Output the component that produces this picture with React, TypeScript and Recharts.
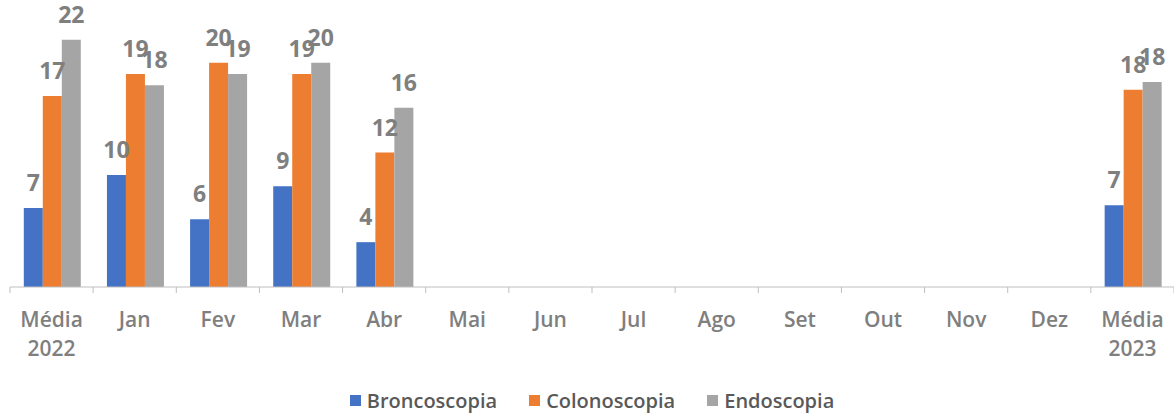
import React from "react";
import { Bar, BarChart, LabelList, Legend, XAxis, YAxis } from "recharts";

const categories = [
  "Média\n2022", "Jan", "Fev", "Mar", "Abr", "Mai", "Jun",
  "Jul", "Ago", "Set", "Out", "Nov", "Dez", "Média\n2023",
];
const broncoscopia = [7.05, 10, 6.05, 9, 4, null, null, null, null, null, null, null, null, 7.3];
const colonoscopia = [17.05, 19, 20, 19, 12, null, null, null, null, null, null, null, null, 17.6];
const endoscopia = [22.05, 18, 19, 20, 16, null, null, null, null, null, null, null, null, 18.3];

const series = [
  { key: "Broncoscopia", values: broncoscopia, color: "#4472C4" },
  { key: "Colonoscopia", values: colonoscopia, color: "#ED7D31" },
  { key: "Endoscopia", values: endoscopia, color: "#A5A5A5" },
];

const rows = categories.map((name, i) => {
  const row: Record<string, string | number | null> = { name };
  series.forEach((s) => (row[s.key] = s.values[i]));
  return row;
});

const W = 1174;
const H = 414;
const LEFT = 10;
const BAND = (W - LEFT) / categories.length;
const FONT = "'Open Sans', Lato, sans-serif";

function CategoryTick(props: any) {
  const { x, y, payload, index } = props;
  const lines = String(payload.value).split("\n");
  const half = BAND / 2;
  return (
    <g>
      <line x1={x - half} x2={x - half} y1={y} y2={y + 6} stroke="#BFBFBF" />
      {index === categories.length - 1 && (
        <line x1={x + half} x2={x + half} y1={y} y2={y + 6} stroke="#BFBFBF" />
      )}
      <text textAnchor="middle" fill="#7F7F7F" fontSize={21} fontWeight={600} fontFamily={FONT}>
        {lines.map((l, i) => (
          <tspan key={i} x={x} y={y + 40 + i * 29}>
            {l}
          </tspan>
        ))}
      </text>
    </g>
  );
}

function LegendBox({ payload }: any) {
  return (
    <div style={{ display: "flex", justifyContent: "center", gap: 32, fontFamily: FONT }}>
      {(payload || []).map((p: any) => (
        <div key={p.value} style={{ display: "flex", alignItems: "center", gap: 6 }}>
          <span style={{ width: 11, height: 11, background: p.color, display: "inline-block" }} />
          <span style={{ color: "#595959", fontSize: 20, fontWeight: 600 }}>{p.value}</span>
        </div>
      ))}
    </div>
  );
}

const fmt = (v: any) => (v == null ? "" : Math.round(Number(v)));

export default function App() {
  return (
    <div style={{ position: "absolute", left: 0, top: 0, background: "#fff" }}>
      <BarChart
        width={W}
        height={H}
        data={rows}
        margin={{ top: 18, right: 0, bottom: 0, left: LEFT }}
        barCategoryGap="16.6%"
        barGap={0}
      >
        <XAxis
          dataKey="name"
          interval={0}
          tickLine={false}
          tickSize={0}
          tickMargin={0}
          axisLine={{ stroke: "#BFBFBF" }}
          tick={<CategoryTick />}
          height={100}
        />
        <YAxis hide domain={[0, 24]} />
        <Legend verticalAlign="bottom" content={<LegendBox />} />
        {series.map((s) => (
          <Bar key={s.key} dataKey={s.key} fill={s.color} isAnimationActive={false}>
            <LabelList
              dataKey={s.key}
              position="top"
              offset={17}
              formatter={fmt}
              fill="#7F7F7F"
              fontSize={23}
              fontWeight={700}
              fontFamily={FONT}
            />
          </Bar>
        ))}
      </BarChart>
    </div>
  );
}
